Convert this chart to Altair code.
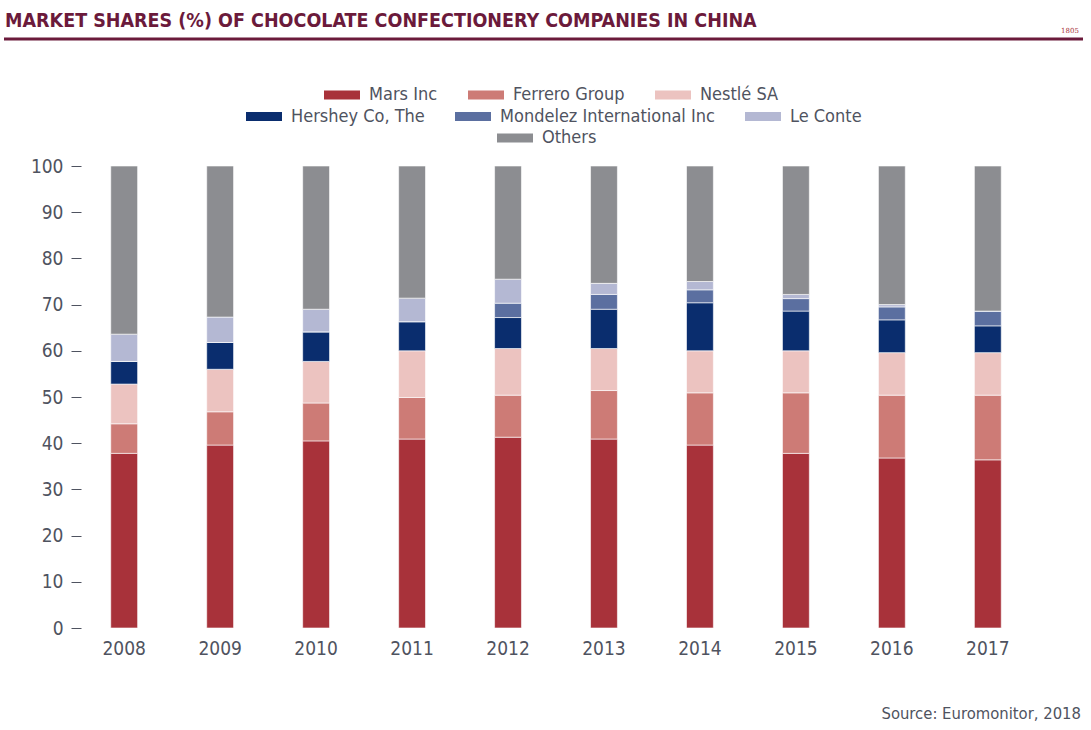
import altair as alt
import pandas as pd

years = ["2008", "2009", "2010", "2011", "2012", "2013", "2014", "2015", "2016", "2017"]
companies = ["Mars Inc", "Ferrero Group", "Nestlé SA", "Hershey Co, The",
             "Mondelez International Inc", "Le Conte", "Others"]
colors = ["#a8323a", "#cd7b76", "#ecc3c0", "#0a2d6e", "#5b6fa0", "#b4b8d3", "#8c8d91"]

mars     = [37.8, 39.6, 40.5, 40.9, 41.3, 40.9, 39.6, 37.8, 36.8, 36.4]
ferrero  = [6.4, 7.2, 8.2, 9.0, 9.1, 10.5, 11.3, 13.1, 13.6, 14.0]
nestle   = [8.6, 9.2, 9.0, 10.1, 10.1, 9.1, 9.1, 9.1, 9.2, 9.2]
hershey  = [4.9, 5.8, 6.4, 6.3, 6.7, 8.5, 10.4, 8.6, 7.1, 5.8]
mondelez = [0.0, 0.0, 0.0, 0.0, 3.1, 3.2, 2.8, 2.7, 2.8, 3.2]
leconte  = [5.9, 5.5, 4.9, 5.1, 5.2, 2.4, 1.8, 0.9, 0.5, 0.0]
others   = [36.4, 32.7, 31.0, 28.6, 24.5, 25.4, 25.0, 27.8, 30.0, 31.4]

series = [mars, ferrero, nestle, hershey, mondelez, leconte, others]

rows = []
for ci, (name, vals) in enumerate(zip(companies, series)):
    for y, v in zip(years, vals):
        rows.append({"year": y, "company": name, "value": v, "order": ci})
df = pd.DataFrame(rows)

FONT = "DejaVu Sans Condensed, sans-serif"
TXT = "#4f5360"
MAROON = "#6b1a3b"

groups = [companies[0:3], companies[3:6], companies[6:7]]
group_cols = [colors[0:3], colors[3:6], colors[6:7]]
legend_xy = [(243, -89), (165, -67.5), (416, -46)]

x_enc = alt.X("year:O", title=None, sort=years,
              scale=alt.Scale(paddingInner=0.72, paddingOuter=0.31),
              axis=alt.Axis(labelAngle=0, ticks=False, domain=False, labelPadding=11,
                            labelFontSize=19, labelFont=FONT, labelColor=TXT, grid=False))
y_axis = alt.Axis(values=list(range(0, 101, 10)), domain=False, tickSize=10, tickColor=TXT,
                  tickWidth=1, labelPadding=8, labelFontSize=19, labelFont=FONT,
                  labelColor=TXT, grid=False, title=None)

base = alt.Chart(df).transform_stack(
    stack="value", as_=["v0", "v1"], groupby=["year"],
    sort=[alt.SortField("order", order="ascending")]
)

layers = []
for g, gc, (lx, ly) in zip(groups, group_cols, legend_xy):
    layer = base.transform_filter(
        alt.FieldOneOfPredicate(field="company", oneOf=g)
    ).mark_bar(stroke="white", strokeWidth=0.6).encode(
        x=x_enc,
        y=alt.Y("v0:Q", scale=alt.Scale(domain=[0, 100], nice=False), axis=y_axis),
        y2="v1:Q",
        color=alt.Color("company:N",
                        scale=alt.Scale(domain=g, range=gc),
                        legend=alt.Legend(orient="none", legendX=lx, legendY=ly,
                                          direction="horizontal", title=None,
                                          symbolType="M-1,-0.25L1,-0.25L1,0.25L-1,0.25Z",
                                          symbolSize=1296, symbolStrokeWidth=0,
                                          labelFont=FONT, labelFontSize=18,
                                          labelColor=TXT, labelOffset=9,
                                          columnPadding=30, padding=0,
                                          labelLimit=400)),
        order=alt.Order("order:Q"),
    )
    layers.append(layer)

title_df = pd.DataFrame({"t": ["MARKET SHARES (%) OF CHOCOLATE CONFECTIONERY COMPANIES IN CHINA"]})
title = alt.Chart(title_df).mark_text(
    align="left", baseline="alphabetic", font=FONT, fontSize=19.5, fontWeight="bold",
    color=MAROON
).encode(text="t:N", x=alt.value(-76), y=alt.value(-139))

rule = alt.Chart(title_df).mark_rule(color=MAROON, strokeWidth=3).encode(
    x=alt.value(-77), x2=alt.value(1002), y=alt.value(-127)
)

src_df = pd.DataFrame({"t": ["Source: Euromonitor, 2018"]})
source = alt.Chart(src_df).mark_text(
    align="right", baseline="alphabetic", font=FONT, fontSize=16.5, color=TXT
).encode(text="t:N", x=alt.value(1000), y=alt.value(553))

logo_df = pd.DataFrame({"t": ["1805"]})
logo = alt.Chart(logo_df).mark_text(
    align="center", baseline="alphabetic", font="DejaVu Serif", fontSize=7, color="#a8323a"
).encode(text="t:N", x=alt.value(989), y=alt.value(-133))

chart = alt.layer(*layers, title, rule, source, logo).resolve_scale(
    color="independent"
).properties(
    width=950, height=462,
    autosize=alt.AutoSizeParams(type="none"),
    padding={"left": 81, "top": 166, "right": 60, "bottom": 102},
    background="white",
).configure_view(stroke=None)

chart.save("out.html", embed_options={"renderer": "svg", "actions": False})
